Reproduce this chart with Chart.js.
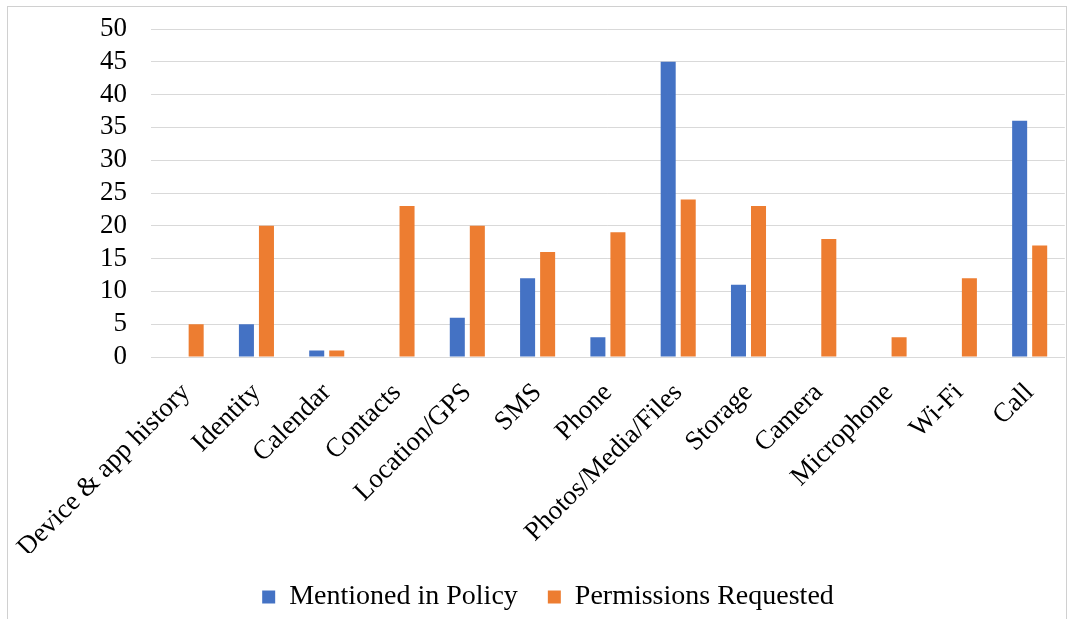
<!DOCTYPE html>
<html>
<head>
<meta charset="utf-8">
<script src="https://cdn.jsdelivr.net/npm/chart.js@4"></script>
<style>
  html, body { margin: 0; padding: 0; background: #fff; overflow: hidden; }
  #wrap { position: absolute; left: 0; top: 0; width: 1071px; height: 619px; }
  #frame { position: absolute; left: 7px; top: 6px; width: 1060px; height: 620px; border: 1px solid #d0d0d0; box-sizing: border-box; pointer-events: none; }
</style>
</head>
<body>
<div id="wrap"><canvas id="chart" width="1071" height="619"></canvas></div>
<div id="frame"></div>
<script>
const categories = ["Device & app history", "Identity", "Calendar", "Contacts", "Location/GPS", "SMS", "Phone", "Photos/Media/Files", "Storage", "Camera", "Microphone", "Wi-Fi", "Call"];
const mentionedInPolicy = [0, 5, 1, 0, 6, 12, 3, 45, 11, 0, 0, 0, 36];
const permissionsRequested = [5, 20, 1, 23, 20, 16, 19, 24, 23, 18, 3, 12, 17];
const yTicks = [0, 5, 10, 15, 20, 25, 30, 35, 40, 45, 50];

const serif = "'Liberation Serif', 'Times New Roman', serif";

new Chart(document.getElementById('chart').getContext('2d'), {
    type: 'bar',
    data: {
        labels: categories,
        datasets: [{
            label: 'Mentioned in Policy',
            data: mentionedInPolicy,
            backgroundColor: '#4472C4'
        }, {
            label: 'Permissions Requested',
            data: permissionsRequested,
            backgroundColor: '#ED7D31'
        }]
    },
    options: {
        responsive: false,
        animation: false,
        categoryPercentage: 0.57,
        barPercentage: 0.75,
        layout: { padding: { top: 29, left: 30, right: 5, bottom: -2 } },
        plugins: {
            tooltip: { enabled: false },
            legend: {
                position: 'bottom',
                labels: {
                    color: '#000',
                    font: { family: serif, size: 28 },
                    boxWidth: 13,
                    boxHeight: 13,
                    padding: 30
                }
            }
        },
        scales: {
            x: {
                grid: { display: false, drawTicks: false },
                border: { display: true, color: '#d9d9d9', width: 1 },
                ticks: {
                    color: '#000',
                    font: { family: serif, size: 27 },
                    minRotation: 45,
                    maxRotation: 45,
                    autoSkip: false,
                    padding: 20
                },
                afterFit: scale => {
                    scale.paddingLeft = 151;
                    scale.height = 196;
                }
            },
            y: {
                min: 0,
                max: 50,
                afterBuildTicks: scale => {
                    scale.ticks = yTicks.map(v => ({ value: v }));
                },
                afterFit: scale => {
                    scale.paddingTop = 0;
                    scale.paddingBottom = 0;
                },
                grid: { color: '#d9d9d9', lineWidth: 1, drawTicks: false },
                border: { display: false },
                ticks: {
                    autoSkip: false,
                    color: '#000',
                    font: { family: serif, size: 27 },
                    padding: 24
                }
            }
        }
    }
});
</script>
</body>
</html>
